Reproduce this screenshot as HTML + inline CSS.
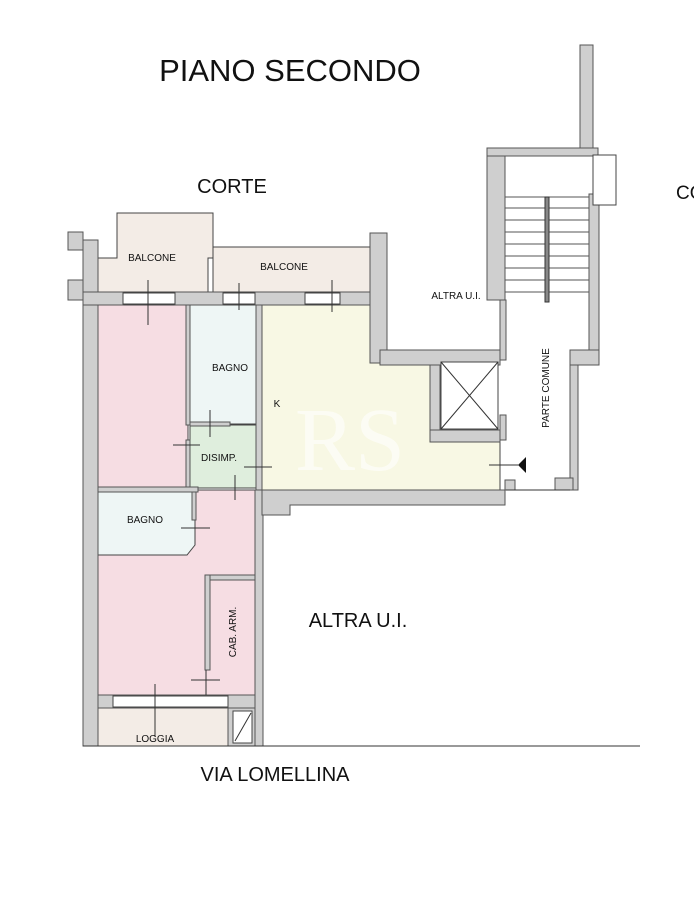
<!DOCTYPE html>
<html><head><meta charset="utf-8"><style>
html,body{margin:0;padding:0;background:#fff;}
svg{display:block;font-family:"Liberation Sans",Arial,sans-serif;}
</style></head><body>
<svg width="694" height="900" viewBox="0 0 694 900" xmlns="http://www.w3.org/2000/svg">
<rect width="694" height="900" fill="#fff"/>
<g stroke="#444" stroke-width="1">
<rect x="98" y="305" width="90" height="185" fill="#f6dde3"/>
<rect x="190" y="305" width="66" height="119" fill="#eef6f5"/>
<rect x="190" y="425" width="66" height="63" fill="#dfeedd"/>
<path d="M262 305 H380 V365 H430 V440 H500 V490 H262 Z" fill="#f8f8e4"/>
<rect x="98" y="490" width="157" height="205" fill="#f6dde3"/>
<path d="M98 490 H195 V545 L187 555 H98 Z" fill="#eef6f5"/>
<path d="M117 213 H213 V258 H208 V292 H98 V258 H117 Z" fill="#f3ece6"/>
<rect x="213" y="247" width="157" height="45" fill="#f3ece6"/>
<rect x="98" y="708" width="130" height="38" fill="#f3ece6"/>
</g>
<g fill="#cfcfcf" stroke="#555" stroke-width="1">
<rect x="83" y="240" width="15" height="506"/>
<rect x="68" y="232" width="15" height="18"/>
<rect x="68" y="280" width="15" height="20"/>
<rect x="83" y="292" width="40" height="13"/>
<rect x="175" y="292" width="48" height="13"/>
<rect x="255" y="292" width="50" height="13"/>
<rect x="340" y="292" width="47" height="13"/>
<rect x="370" y="233" width="17" height="130"/>
<rect x="380" y="350" width="120" height="15"/>
<rect x="430" y="365" width="10" height="77"/>
<rect x="430" y="430" width="70" height="12"/>
<rect x="256" y="305" width="6" height="185"/>
<rect x="186" y="305" width="4" height="120"/>
<rect x="186" y="440" width="4" height="50"/>
<rect x="190" y="422" width="40" height="4"/>
<rect x="255" y="490" width="8" height="256"/>
<path d="M262 490 H500 V490 H505 V505 H290 V515 H262 Z"/>
<rect x="98" y="487" width="100" height="5"/>
<rect x="192" y="492" width="4" height="28"/>
<rect x="205" y="575" width="5" height="95"/>
<rect x="210" y="575" width="45" height="5"/>
<rect x="98" y="695" width="157" height="13"/>
<rect x="228" y="708" width="27" height="38"/>
<rect x="580" y="45" width="13" height="105"/>
<rect x="487" y="148" width="111" height="8"/>
<rect x="487" y="156" width="18" height="144"/>
<rect x="500" y="300" width="6" height="60"/>
<rect x="589" y="194" width="10" height="160"/>
<rect x="570" y="350" width="29" height="15"/>
<rect x="570" y="365" width="8" height="125"/>
<rect x="500" y="415" width="6" height="25"/>
<rect x="505" y="480" width="10" height="10"/>
<rect x="555" y="478" width="18" height="12"/>
</g>
<g fill="#fff" stroke="#444" stroke-width="1">
<rect x="123" y="293" width="52" height="11"/>
<rect x="223" y="293" width="32" height="11"/>
<rect x="305" y="293" width="35" height="11"/>
<rect x="113" y="696" width="115" height="11"/>
<rect x="233" y="711" width="19" height="32"/>
<rect x="441" y="362" width="57" height="67"/>
<rect x="593" y="155" width="23" height="50"/>
</g>
<g stroke="#333" stroke-width="1" fill="none">
<line x1="441" y1="362" x2="498" y2="429"/><line x1="498" y1="362" x2="441" y2="429"/>
<line x1="235" y1="741" x2="251" y2="713"/>
<line x1="83" y1="746" x2="640" y2="746"/>
<g stroke="#555">
<line x1="505" y1="197" x2="589" y2="197"/><line x1="505" y1="208" x2="589" y2="208"/>
<line x1="505" y1="220" x2="589" y2="220"/><line x1="505" y1="232" x2="589" y2="232"/>
<line x1="505" y1="244" x2="589" y2="244"/><line x1="505" y1="256" x2="589" y2="256"/>
<line x1="505" y1="268" x2="589" y2="268"/><line x1="505" y1="280" x2="589" y2="280"/>
<line x1="505" y1="292" x2="589" y2="292"/>
</g>
<rect x="545" y="197" width="4" height="105" fill="#888"/>
<line x1="506" y1="490" x2="570" y2="490"/>
<line x1="148" y1="280" x2="148" y2="325"/>
<line x1="239" y1="283" x2="239" y2="310"/>
<line x1="332" y1="280" x2="332" y2="312"/>
<line x1="210" y1="410" x2="210" y2="437"/><line x1="173" y1="445" x2="200" y2="445"/>
<line x1="244" y1="467" x2="272" y2="467"/><line x1="235" y1="475" x2="235" y2="500"/>
<line x1="181" y1="528" x2="210" y2="528"/>
<line x1="191" y1="680" x2="220" y2="680"/><line x1="206" y1="670" x2="206" y2="695"/>
<line x1="155" y1="684" x2="155" y2="737"/>
<line x1="489" y1="465" x2="518" y2="465"/>
</g>
<path d="M518 465 L526 457 L526 473 Z" fill="#111"/>
<text x="350" y="470" font-family="Liberation Serif,serif" font-size="90" fill="#fff" opacity="0.6" text-anchor="middle">RS</text>
<g fill="#111">
<text x="290" y="81" font-size="31" text-anchor="middle">PIANO SECONDO</text>
<text x="232" y="193" font-size="20" text-anchor="middle">CORTE</text>
<text x="676" y="199" font-size="19">CO</text>
<text x="358" y="627" font-size="20" text-anchor="middle">ALTRA U.I.</text>
<text x="275" y="781" font-size="20" text-anchor="middle">VIA LOMELLINA</text>
<g font-size="10" text-anchor="middle">
<text x="152" y="261">BALCONE</text>
<text x="284" y="270">BALCONE</text>
<text x="230" y="371">BAGNO</text>
<text x="219" y="461">DISIMP.</text>
<text x="145" y="523">BAGNO</text>
<text x="155" y="742">LOGGIA</text>
<text x="456" y="299">ALTRA U.I.</text>
<text x="277" y="407">K</text>
<text transform="translate(236,632) rotate(-90)">CAB. ARM.</text>
<text transform="translate(549,388) rotate(-90)">PARTE COMUNE</text>
</g>
</g>
</svg>
</body></html>
